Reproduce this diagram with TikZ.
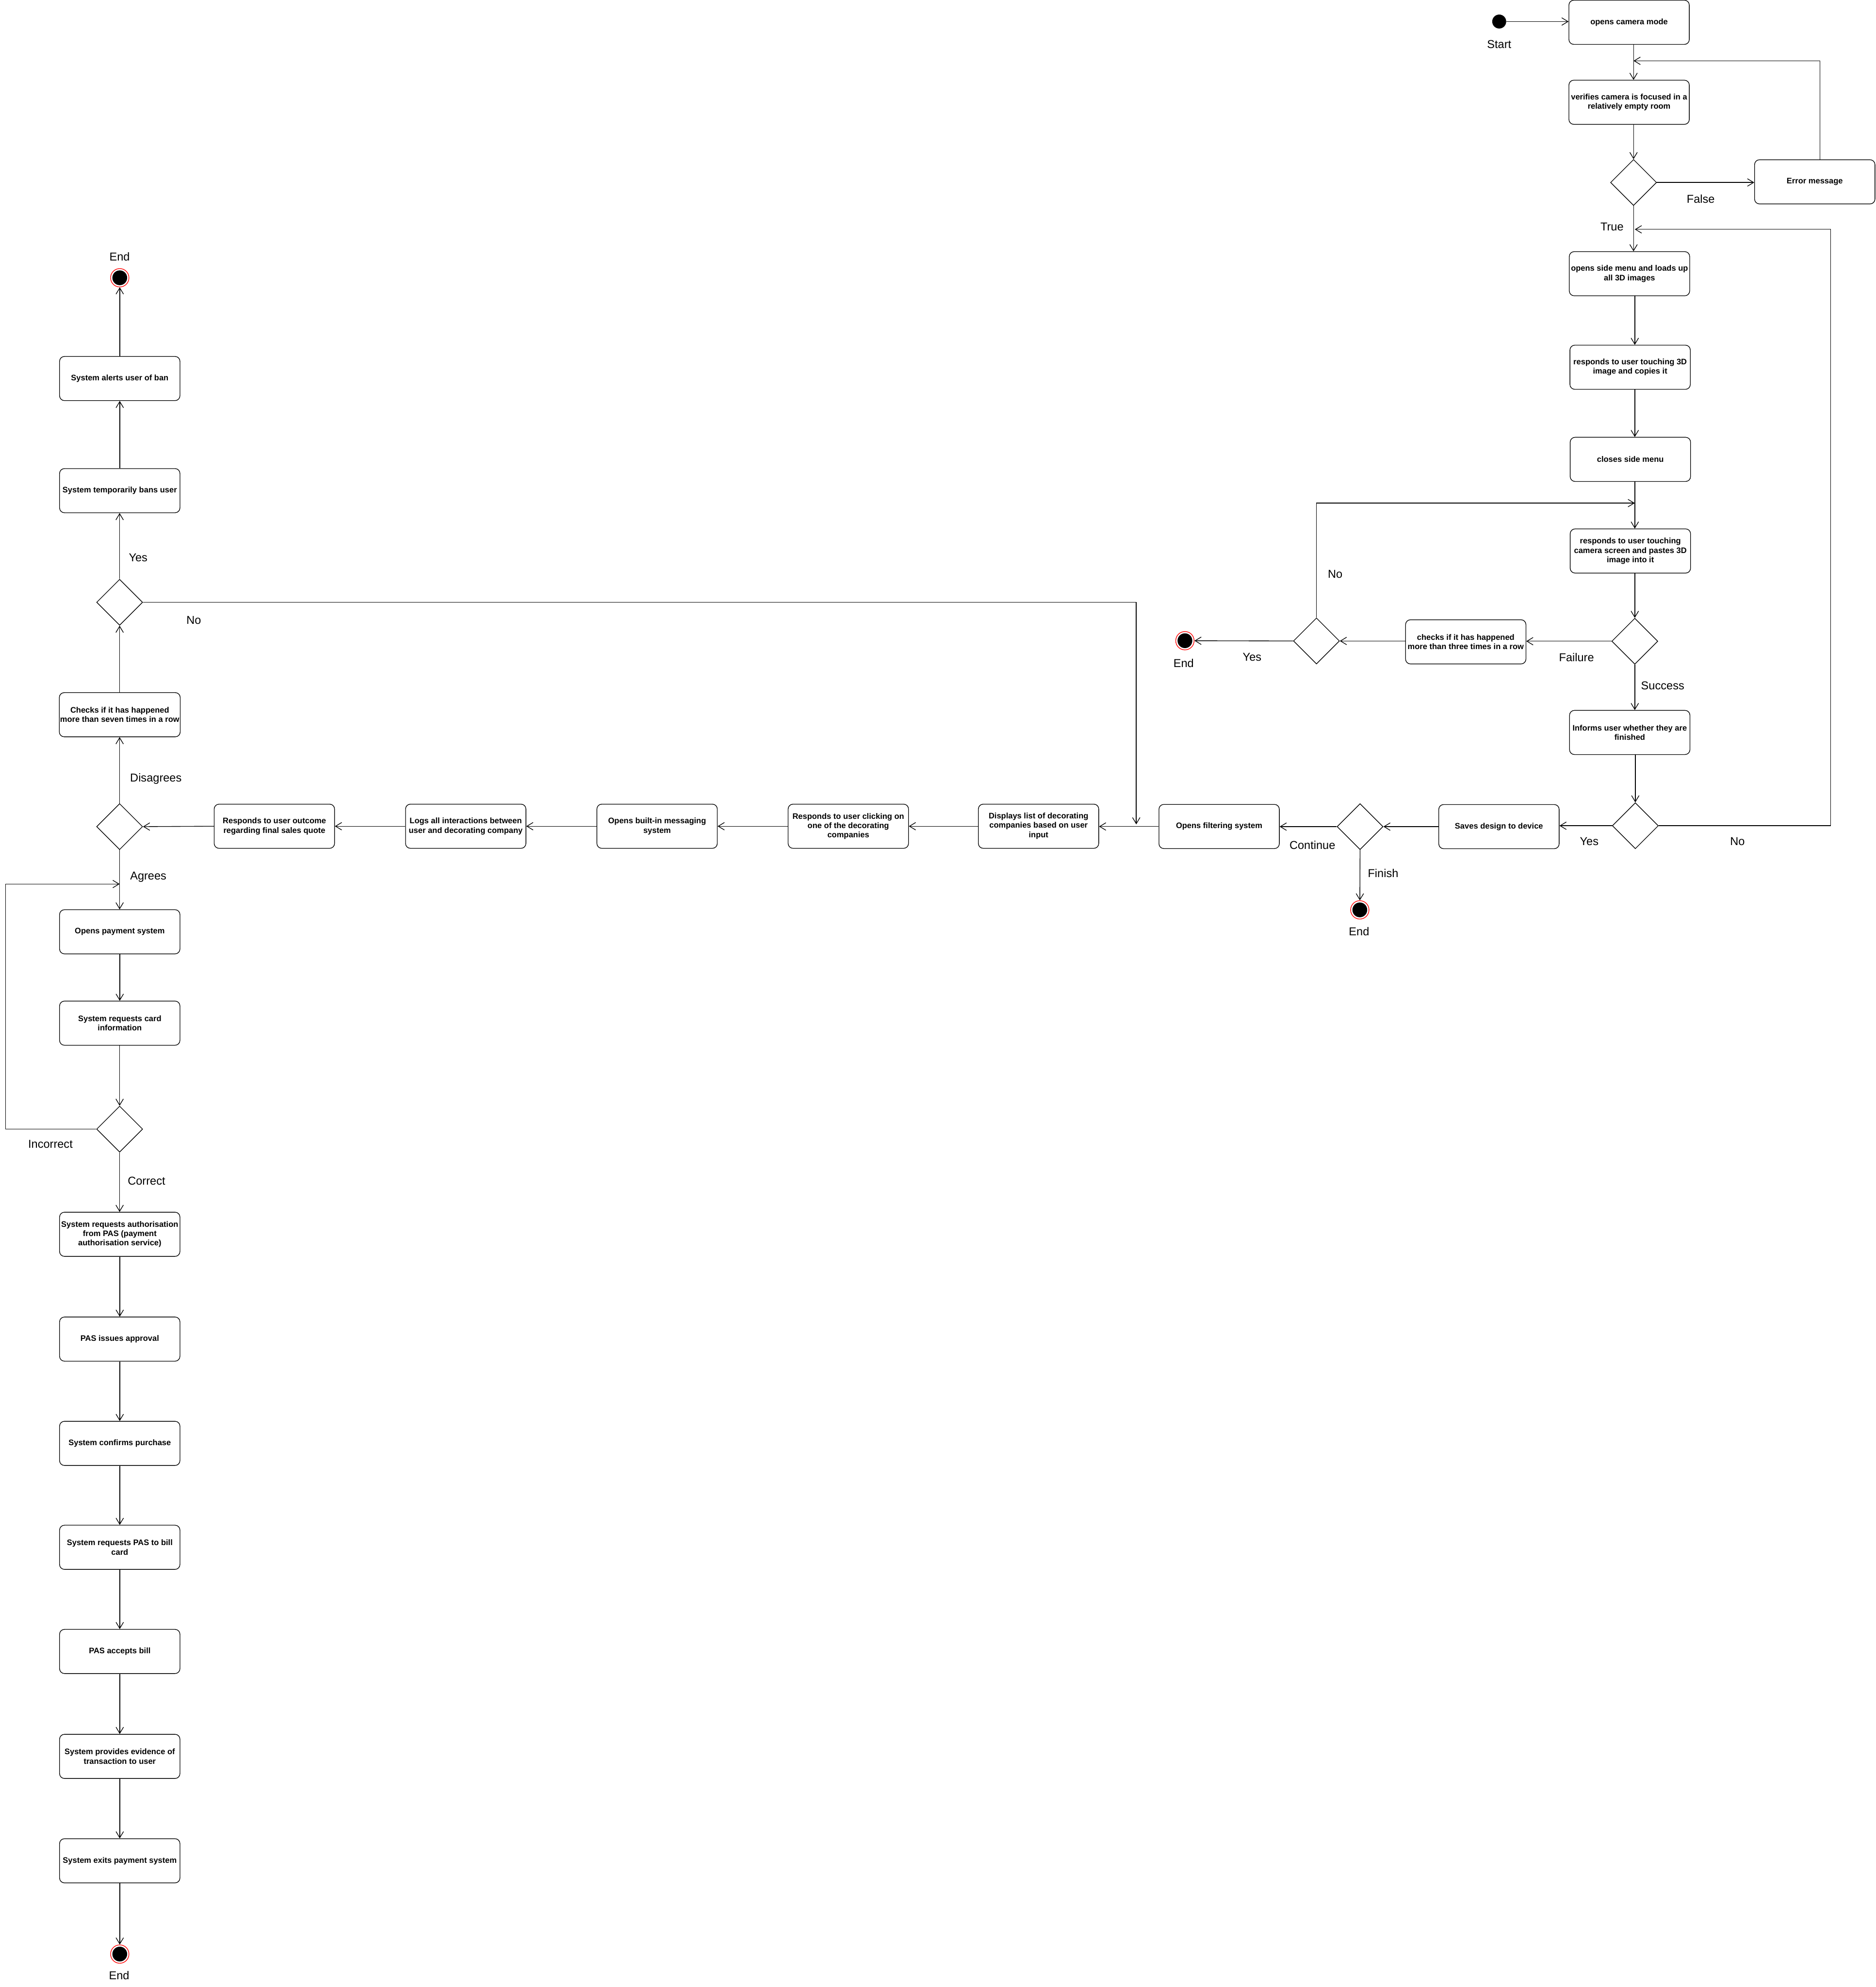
\documentclass[tikz,border=0pt]{standalone}
\usepackage{fontspec}
\setmainfont{Liberation Sans}
\usetikzlibrary{arrows.meta,shapes.geometric,calc}
\begin{document}
\begin{tikzpicture}[x=0.02725cm,y=-0.02725cm,
  act/.style={draw, rounded corners=3pt, minimum width=2.589cm, minimum height=0.95cm,
    align=center, font=\fontsize{4.9}{5.7}\selectfont\bfseries, inner sep=0.5pt, line width=0.4pt},
  dec/.style={draw, diamond, aspect=1, minimum width=0.99cm, minimum height=0.99cm,
    inner sep=0pt, line width=0.4pt},
  lbl/.style={font=\fontsize{7}{8}\selectfont, inner sep=0pt},
  flow/.style={line width=0.4pt, -{Straight Barb[length=3.8pt,width=4.6pt]}},
  startnode/.style={circle, fill=black, minimum size=0.3cm, inner sep=0pt},
  endnode/.style={circle, draw=red, line width=0.4pt, minimum size=0.395cm, inner sep=0pt,
    path picture={\fill[black] (path picture bounding box.center) circle (0.159cm);}},
]
\useasboundingbox (0,0) rectangle (1480,1568);

% ---------- right column ----------
\node[startnode] (start) at (1183,17) {};
\node[lbl] (lstart) at (1183,35) {Start};
\node[act] (b1) at (1285.5,17.6) {opens camera mode};
\node[act] (b2) at (1285.5,80.7) {verifies camera is focused in a\\relatively empty room};
\node[dec] (d1) at (1289,144) {};
\node[act] (err) at (1432,143.5) {Error message};
\node[act] (b3) at (1285.8,216) {opens side menu and loads up\\all 3D images};
\node[act] (b4) at (1286.3,289.8) {responds to user touching 3D\\image and copies it};
\node[act] (b5) at (1286.5,362.5) {closes side menu};
\node[act] (b6) at (1286.5,434.8) {responds to user touching\\camera screen and pastes 3D\\image into it};
\node[dec] (d2) at (1290,506) {};
\node[act] (chk3) at (1156.6,506.5) {checks if it has happened\\more than three times in a row};
\node[dec] (d3) at (1038.8,505.8) {};
\node[endnode] (end1) at (935,505.6) {};
\node[lbl] (lend1) at (934,523.4) {End};
\node[act] (inf) at (1286,578) {Informs user whether they are\\finished};
\node[dec] (d4) at (1290.4,651.6) {};
\node[act] (save) at (1182.8,652.3) {Saves design to device};
\node[dec] (d5) at (1073.2,652.3) {};
\node[endnode] (end2) at (1073,718) {};
\node[lbl] (lend2) at (1072.4,735.2) {End};
\node[act] (filt) at (962,652.2) {Opens filtering system};

% ---------- middle row ----------
\node[act] (disp) at (819.5,652) {\\[-2.5pt]Displays list of decorating\\companies based on user\\input};
\node[act] (resp) at (669.4,652) {Responds to user clicking on\\one of the decorating\\companies};
\node[act] (msg) at (518.5,652) {Opens built-in messaging\\system};
\node[act] (logs) at (367.5,652) {Logs all interactions between\\user and decorating company};
\node[act] (outc) at (216.5,652) {Responds to user outcome\\regarding final sales quote};

% ---------- left column ----------
\node[dec] (d6) at (94.4,652.3) {};
\node[act] (chk7) at (94.5,564) {Checks if it has happened\\more than seven times in a row};
\node[dec] (d7) at (94.4,475.3) {};
\node[act] (ban) at (94.5,387.2) {System temporarily bans user};
\node[act] (alert) at (94.5,298.7) {System alerts user of ban};
\node[endnode] (end3) at (94.5,219.2) {};
\node[lbl] (lend3) at (94.4,202.6) {End};
\node[act] (pay) at (94.5,735.3) {Opens payment system};
\node[act] (card) at (94.5,807.4) {System requests card\\information};
\node[dec] (d8) at (94.4,891) {};
\node[act] (auth) at (94.5,974) {System requests authorisation\\from PAS (payment\\authorisation service)};
\node[act] (appr) at (94.5,1056.7) {PAS issues approval};
\node[act] (conf) at (94.5,1139) {System confirms purchase};
\node[act] (bill) at (94.5,1221) {System requests PAS to bill\\card};
\node[act] (acc) at (94.5,1303.2) {PAS accepts bill};
\node[act] (evid) at (94.5,1386) {System provides evidence of\\transaction to user};
\node[act] (exit) at (94.5,1468.4) {System exits payment system};
\node[endnode] (end4) at (94.5,1542) {};
\node[lbl] (lend4) at (94,1559) {End};

% ---------- labels ----------
\node[lbl] at (1342,157) {False};
\node[lbl] at (1272,179) {True};
\node[lbl] at (1053.6,453) {No};
\node[lbl] at (1244,518.6) {Failure};
\node[lbl] at (988,518.6) {Yes};
\node[lbl] at (1312,541) {Success};
\node[lbl] at (1254,664) {Yes};
\node[lbl] at (1371,664) {No};
\node[lbl] at (1035.6,667) {Continue};
\node[lbl] at (1091.4,689) {Finish};
\node[lbl] at (109,440) {Yes};
\node[lbl] at (152.9,489.3) {No};
\node[lbl] at (123,614.5) {Disagrees};
\node[lbl] at (117,692) {Agrees};
\node[lbl] at (39.8,902.8) {Incorrect};
\node[lbl] at (115.6,932) {Correct};

% ---------- coordinates ----------
\coordinate (j1) at (1289,48);
\coordinate (j2) at (1290,397);
\coordinate (c3) at (1444.5,181);
\coordinate (j3) at (1290,181);
\coordinate (j4) at (896.6,650.5);
\coordinate (c8) at (4.5,697.6);
\coordinate (j8) at (94.4,697.6);

% ---------- connectors ----------
\draw[flow] (start) -- (b1.west |- start);
\draw[flow] (b1.south -| d1) -- (b2.north -| d1);
\draw[flow] (b2.south -| d1) -- (d1.north);
\draw[flow] (d1.east) -- (err.west |- d1);
\draw[flow] ([xshift=0.109cm]err.north) |- (j1);
\draw[flow] (d1.south) -- (b3.north -| d1);
\draw[flow] (b3.south -| d2) -- (b4.north -| d2);
\draw[flow] (b4.south -| d2) -- (b5.north -| d2);
\draw[flow] (b5.south -| d2) -- (b6.north -| d2);
\draw[flow] (b6.south -| d2) -- (d2.north);
\draw[flow] (d2.west) -- (chk3.east |- d2);
\draw[flow] (chk3.west |- d3) -- (d3.east);
\draw[flow] (d3.west) -- (end1);
\draw[flow] (d3.north) |- (j2);
\draw[flow] (d2.south) -- (inf.north -| d2);
\draw[flow] (inf.south -| d4) -- (d4.north);
\draw[flow] (d4.west) -- (save.east |- d4);
\draw[flow] (d4.east) -| (c3) -- (j3);
\draw[flow] (save.west |- d5) -- (d5.east);
\draw[flow] (d5.south) -- (end2);
\draw[flow] (d5.west) -- (filt.east |- d5);
\draw[flow] (filt.west) -- (disp.east |- filt);
\draw[flow] (disp.west) -- (resp.east |- disp);
\draw[flow] (resp.west) -- (msg.east |- resp);
\draw[flow] (msg.west) -- (logs.east |- msg);
\draw[flow] (logs.west) -- (outc.east |- logs);
\draw[flow] (outc.west) -- (d6.east);
\draw[flow] (d6.north) -- (chk7.south -| d6);
\draw[flow] (chk7.north -| d7) -- (d7.south);
\draw[flow] (d7.north) -- (ban.south -| d7);
\draw[flow] (ban.north) -- (alert.south);
\draw[flow] (alert.north) -- (end3);
\draw[flow] (d7.east) -| (j4);
\draw[flow] (d6.south) -- (pay.north -| d6);
\draw[flow] (pay.south) -- (card.north);
\draw[flow] (card.south -| d8) -- (d8.north);
\draw[flow] (d8.west) -| (c8) -- (j8);
\draw[flow] (d8.south) -- (auth.north -| d8);
\draw[flow] (auth.south) -- (appr.north);
\draw[flow] (appr.south) -- (conf.north);
\draw[flow] (conf.south) -- (bill.north);
\draw[flow] (bill.south) -- (acc.north);
\draw[flow] (acc.south) -- (evid.north);
\draw[flow] (evid.south) -- (exit.north);
\draw[flow] (exit.south) -- (end4);
\end{tikzpicture}
\end{document}
